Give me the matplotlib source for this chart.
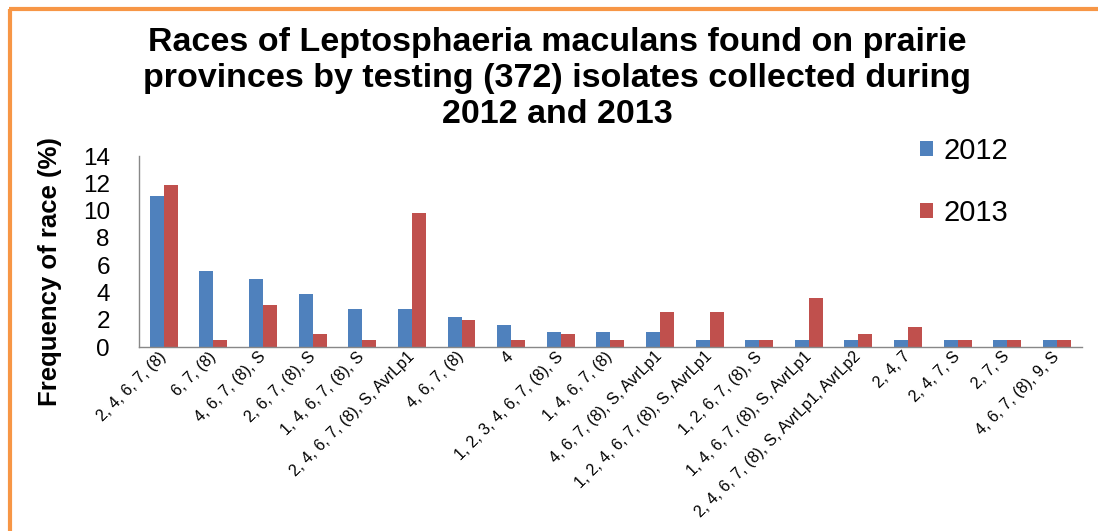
import matplotlib
matplotlib.use("Agg")
import matplotlib.pyplot as plt
import numpy as np
from matplotlib.lines import Line2D

categories = [
    "2, 4, 6, 7, (8)", "6, 7, (8)", "4, 6, 7, (8), S", "2, 6, 7, (8), S",
    "1, 4, 6, 7, (8), S", "2, 4, 6, 7, (8), S, AvrLp1", "4, 6, 7, (8)", "4",
    "1, 2, 3, 4, 6, 7, (8), S", "1, 4, 6, 7, (8)", "4, 6, 7, (8), S, AvrLp1",
    "1, 2, 4, 6, 7, (8), S, AvrLp1", "1, 2, 6, 7, (8), S",
    "1, 4, 6, 7, (8), S, AvrLp1", "2, 4, 6, 7, (8), S, AvrLp1, AvrLp2",
    "2, 4, 7", "2, 4, 7, S", "2, 7, S", "4, 6, 7, (8), 9, S",
]
values_2012 = [11.1, 5.6, 5.0, 3.9, 2.8, 2.8, 2.2, 1.6, 1.1, 1.1, 1.1,
               0.5, 0.5, 0.5, 0.5, 0.5, 0.5, 0.5, 0.5]
values_2013 = [11.9, 0.5, 3.1, 1.0, 0.5, 9.8, 2.0, 0.5, 1.0, 0.5, 2.6,
               2.6, 0.5, 3.6, 1.0, 1.5, 0.5, 0.5, 0.5]
series_labels = ["2012", "2013"]
y_ticks = [0, 2, 4, 6, 8, 10, 12, 14]

plt.rcParams['font.family'] = ['Liberation Sans', 'DejaVu Sans']

W, H = 1098, 531
fig = plt.figure(figsize=(W / 100, H / 100), dpi=100)
fig.patch.set_facecolor('white')

ax = fig.add_axes([139 / W, 1 - 347.3 / H, (1081.7 - 139) / W, (347.3 - 156) / H])

x = np.arange(len(categories))
bw = 0.282
c12, c13 = '#4F81BD', '#C0504D'
ax.bar(x - bw / 2, values_2012, width=bw, color=c12, label=series_labels[0], zorder=2)
ax.bar(x + bw / 2, values_2013, width=bw, color=c13, label=series_labels[1], zorder=2)

ax.set_xlim(-0.5, len(categories) - 0.5)
ax.set_ylim(0, 14)
ax.set_yticks(y_ticks)
ax.set_yticklabels([str(v) for v in y_ticks], fontsize=17.5)
ax.tick_params(axis='y', length=0, pad=21)
ax.tick_params(axis='x', length=0, pad=5)
ax.set_xticks(x)
ax.set_xticklabels(categories, rotation=45, ha='right', va='center',
                   rotation_mode='anchor', fontsize=11.5)

for s in ['top', 'right']:
    ax.spines[s].set_visible(False)
for s in ['left', 'bottom']:
    ax.spines[s].set_color('#888888')
    ax.spines[s].set_linewidth(1.0)

leg = ax.legend(loc='upper left', bbox_to_anchor=(920 / W, 1 - 137 / H),
                bbox_transform=fig.transFigure, frameon=False, fontsize=21,
                handlelength=0.45, handleheight=0.45, handletextpad=0.34,
                labelspacing=1.16, borderpad=0, borderaxespad=0)

fig.text(50 / W, 1 - 272 / H, "Frequency of race (%)", rotation=90,
         ha='center', va='center', fontsize=18.5, fontweight='bold')

fig.text(557 / W, 1 - 27 / H,
         "Races of Leptosphaeria maculans found on prairie\n"
         "provinces by testing (372) isolates collected during\n"
         "2012 and 2013",
         ha='center', va='top', fontsize=24.5, fontweight='bold', linespacing=1.2)

orange = '#F79646'
fig.add_artist(Line2D([10 / W, 10 / W], [0, 1 - 9 / H], transform=fig.transFigure,
                      color=orange, linewidth=3, solid_capstyle='butt'))
fig.add_artist(Line2D([8.5 / W, 1], [1 - 9 / H, 1 - 9 / H], transform=fig.transFigure,
                      color=orange, linewidth=3, solid_capstyle='butt'))

fig.savefig("out.png", dpi=100, facecolor='white')
